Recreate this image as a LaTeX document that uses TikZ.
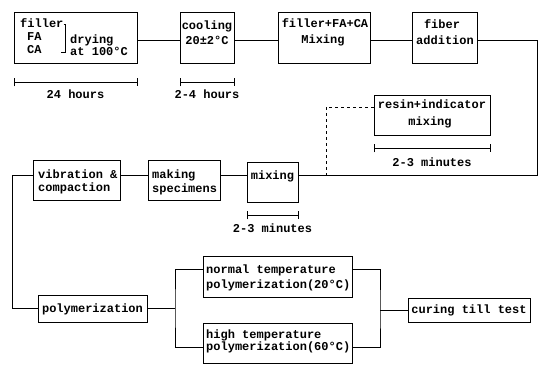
\documentclass[tikz,border=0pt]{standalone}
\usepackage{fontspec}
\setmainfont{Liberation Mono}
\usetikzlibrary{arrows.meta}
\begin{document}
\begin{tikzpicture}[x=1pt,y=-1pt,
  box/.style={draw, line width=0.8pt, inner sep=0pt, rectangle},
  txt/.style={inner sep=0pt, font=\bfseries\fontsize{12}{14}\selectfont},
  link/.style={line width=0.8pt},
  span/.style={line width=0.8pt, {Bar[width=8pt]}-{Bar[width=8pt]}}]
\useasboundingbox (0,0) rectangle (541,365);
% boxes
\node[box, minimum width=123pt, minimum height=51pt] (B1) at (75.5,37.5) {};
\node[box, minimum width=54pt, minimum height=51pt] (B2) at (207,37.5) {};
\node[box, minimum width=92pt, minimum height=51pt] (B3) at (324,37.5) {};
\node[box, minimum width=65pt, minimum height=51pt] (B4) at (444.5,37.5) {};
\node[box, minimum width=116pt, minimum height=40pt] (R) at (432,115) {};
\node[box, minimum width=87pt, minimum height=40pt] (V) at (76.5,180) {};
\node[box, minimum width=72pt, minimum height=40pt] (M) at (184,180) {};
\node[box, minimum width=51pt, minimum height=40pt] (X) at (272.5,182) {};
\node[box, minimum width=109pt, minimum height=27pt] (P) at (92.5,308.5) {};
\node[box, minimum width=149pt, minimum height=41pt] (N) at (277.5,276.5) {};
\node[box, minimum width=149pt, minimum height=40pt] (H) at (277.5,343) {};
\node[box, minimum width=122pt, minimum height=24pt] (C) at (469,310) {};
% texts
\node[txt, anchor=base west] (t1a) at (20,27.5) {filler};
\node[txt, anchor=base west] (t1b) at (27,40.5) {FA};
\node[txt, anchor=base west] (t1c) at (27,53.5) {CA};
\node[txt, anchor=base west] (t1d) at (70,43.5) {drying};
\node[txt, anchor=base west] (t1e) at (70,55.5) {at 100°C};
\draw[link] (t1a.east |- 0,24) -- (65,24) -- (65,52) -- (61,52);
\node[txt, anchor=base] (t2a) at (207,29.5) {cooling};
\node[txt, anchor=base] (t2b) at (207,44.5) {20±2°C};
\node[txt, anchor=base] (t3a) at (325,27.5) {filler+FA+CA};
\node[txt, anchor=base] (t3b) at (323,43.5) {Mixing};
\node[txt, anchor=base] (t4a) at (442,28.5) {fiber};
\node[txt, anchor=base] (t4b) at (445,44.5) {addition};
\node[txt, anchor=base] (tra) at (432,108.5) {resin+indicator};
\node[txt, anchor=base] (trb) at (430,125) {mixing};
\node[txt, anchor=base west] (tva) at (38,178.5) {vibration \&};
\node[txt, anchor=base west] (tvb) at (38,191.5) {compaction};
\node[txt, anchor=base west] (tma) at (152,178.5) {making};
\node[txt, anchor=base west] (tmb) at (152,192.5) {specimens};
\node[txt, anchor=base] (tx) at (272.5,179.5) {mixing};
\node[txt, anchor=base] (tp) at (92.5,312) {polymerization};
\node[txt, anchor=base west] (tna) at (206,273.5) {normal temperature};
\node[txt, anchor=base west] (tnb) at (206,288.5) {polymerization(20°C)};
\node[txt, anchor=base west] (tha) at (206,338.5) {high temperature};
\node[txt, anchor=base west] (thb) at (206,350.5) {polymerization(60°C)};
\node[txt, anchor=base] (tc) at (469,313.5) {curing till test};
% time spans
\draw[span] ([yshift=-19pt]B1.south west) -- ([yshift=-19pt]B1.south east);
\node[txt, anchor=base] (s1) at (75.5,98.5) {24 hours};
\draw[span] ([yshift=-19pt]B2.south west) -- ([yshift=-19pt]B2.south east);
\node[txt, anchor=base] (s2) at (207,98.5) {2-4 hours};
\draw[span] ([yshift=-13pt]R.south west) -- ([yshift=-13pt]R.south east);
\node[txt, anchor=base] (s3) at (432,166.5) {2-3 minutes};
\draw[span] ([yshift=-13pt]X.south west) -- ([yshift=-13pt]X.south east);
\node[txt, anchor=base] (s4) at (272.5,232.5) {2-3 minutes};
% connectors
\coordinate (rowa) at (0,40);
\coordinate (row) at (0,175);
\coordinate (rc) at (537,175);
\coordinate (dl) at (326,175);
\coordinate (lc) at (12,308.5);
\coordinate (sp) at (175,308.5);
\coordinate (jc) at (380,310);
\draw[link] (B1.east |- rowa) -- (B2.west |- rowa);
\draw[link] (B2.east |- rowa) -- (B3.west |- rowa);
\draw[link] (B3.east |- rowa) -- (B4.west |- rowa);
\draw[link] (B4.east |- rowa) -| (rc) -- (X.east |- row);
\draw[link, dashed] ([yshift=8pt]R.west) -| (dl);
\draw[link] (X.west |- row) -- (M.east |- row);
\draw[link] (M.west |- row) -- (V.east |- row);
\draw[link] (V.west |- row) -| (lc) -- (P.west);
\draw[link] (P.east) -- (sp);
\draw[link] ([yshift=7.5pt]N.west) -| (sp) |- ([yshift=-4pt]H.west);
\draw[link] ([yshift=7.5pt]N.east) -| (jc) |- ([yshift=-4pt]H.east);
\draw[link] (jc) -- (C.west);
\end{tikzpicture}
\end{document}
